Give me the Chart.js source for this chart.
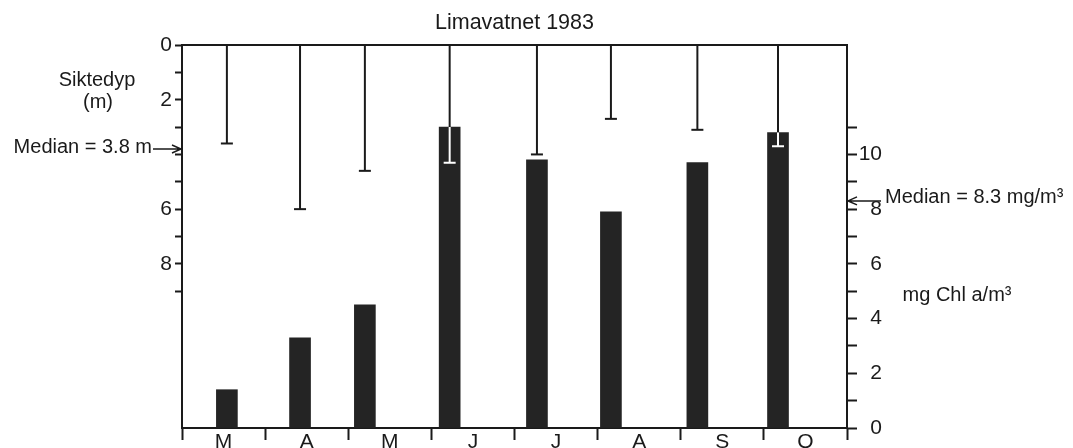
<!DOCTYPE html>
<html>
<head>
<meta charset="utf-8">
<script src="https://cdn.jsdelivr.net/npm/chart.js"></script>
<style>
  html, body { margin: 0; padding: 0; background: #fff; overflow: hidden; }
  #wrap { width: 1073px; height: 462px; }
</style>
</head>
<body>
<div id="wrap"><canvas id="lima"></canvas></div>
<script>
// Limavatnet 1983: siktedyp (m) og klorofyll a (mg/m3)
const months = ['M', 'A', 'M', 'J', 'J', 'A', 'S', 'O'];
// sampling position inside each month (month index + fraction)
const samplePos = [0.54, 1.42, 2.20, 3.22, 4.27, 5.16, 6.20, 7.17];
const chlA = [1.4, 3.3, 4.5, 11.0, 9.8, 7.9, 9.7, 10.8];
const secchiDepth = [3.6, 6.0, 4.6, 4.3, 4.0, 2.7, 3.1, 3.7];
const medianSecchi = 3.8;
const medianChl = 8.3;
const depthTickLabels = [0, 2, 6, 8];
const chlTickLabels = [0, 2, 4, 6, 8, 10];

const ink = '#1a1a1a';
const canvas = document.getElementById('lima');

Chart.defaults.color = ink;
Chart.defaults.font.family = 'Liberation Sans';
Chart.defaults.font.size = 21;

function arrow(ctx, x0, x1, y) {
  // line from x0 to x1, head at x1
  const dir = x1 > x0 ? 1 : -1;
  ctx.beginPath();
  ctx.moveTo(x0, y);
  ctx.lineTo(x1, y);
  ctx.moveTo(x1 - dir * 9, y - 4);
  ctx.lineTo(x1, y);
  ctx.lineTo(x1 - dir * 9, y + 4);
  ctx.stroke();
}

const errorBars = {
  id: 'errorBars',
  afterDatasetsDraw(chart) {
    const { ctx, scales } = chart;
    const bars = chart.getDatasetMeta(0).data;
    ctx.save();
    ctx.lineWidth = 2;
    secchiDepth.forEach((d, i) => {
      const x = scales.xd.getPixelForValue(samplePos[i]);
      const y0 = scales.y.getPixelForValue(0);
      const y1 = scales.y.getPixelForValue(d);
      const barTop = bars[i].y;
      const inside = y1 > barTop;
      ctx.strokeStyle = ink;
      ctx.beginPath();
      ctx.moveTo(x, y0);
      ctx.lineTo(x, inside ? barTop : y1);
      ctx.stroke();
      ctx.strokeStyle = inside ? '#ffffff' : ink;
      ctx.beginPath();
      if (inside) {
        ctx.moveTo(x, barTop);
        ctx.lineTo(x, y1);
      }
      ctx.moveTo(x - 6, y1);
      ctx.lineTo(x + 6, y1);
      ctx.stroke();
    });
    ctx.restore();
  }
};

const annotations = {
  id: 'annotations',
  afterDraw(chart) {
    const { ctx, chartArea, scales } = chart;
    ctx.save();
    ctx.fillStyle = ink;
    ctx.strokeStyle = ink;
    ctx.lineWidth = 1.5;
    ctx.font = '20px "Liberation Sans"';
    ctx.textBaseline = 'middle';

    // left: median Secchi depth
    const yl = scales.y.getPixelForValue(medianSecchi);
    ctx.textAlign = 'right';
    ctx.fillText('Median = ' + medianSecchi.toFixed(1) + ' m', chartArea.left - 30, yl - 1);
    arrow(ctx, chartArea.left - 29, chartArea.left - 1, yl);

    // right: median chlorophyll
    const yr = scales.y1.getPixelForValue(medianChl);
    ctx.textAlign = 'left';
    ctx.fillText('Median = ' + medianChl.toFixed(1) + ' mg/m³', chartArea.right + 38, yr - 3);
    arrow(ctx, chartArea.right + 34, chartArea.right + 1, yr);

    // axis names
    ctx.textAlign = 'center';
    ctx.fillText('Siktedyp', chartArea.left - 85, scales.y.getPixelForValue(1.3));
    ctx.fillText('(m)', chartArea.left - 84, scales.y.getPixelForValue(2.1));
    ctx.fillText('mg Chl a/m³', chartArea.right + 110, scales.y1.getPixelForValue(4.85));
    ctx.restore();
  }
};

new Chart(canvas, {
  type: 'bar',
  data: {
    datasets: [{
      label: 'mg Chl a/m³',
      data: samplePos.map((p, i) => ({ x: p, y: chlA[i] })),
      xAxisID: 'xd',
      yAxisID: 'y1',
      backgroundColor: '#242424',
      borderWidth: 0,
      barThickness: 21
    }]
  },
  options: {
    responsive: true,
    maintainAspectRatio: false,
    animation: false,
    layout: { padding: { left: 0, top: 0, bottom: 0, right: 191 } },
    plugins: {
      legend: { display: false },
      tooltip: { enabled: false },
      title: {
        display: true,
        fullSize: false,
        text: 'Limavatnet 1983',
        color: ink,
        font: { size: 21.5, weight: 'normal' },
        padding: { top: 10, bottom: 9.2 }
      }
    },
    scales: {
      xd: {
        type: 'linear',
        display: false,
        min: 0,
        max: months.length,
        offset: false
      },
      x: {
        type: 'category',
        position: 'bottom',
        labels: months,
        offset: true,
        afterFit: (s) => { s.height = 34; },
        grid: {
          offset: true,
          drawOnChartArea: false,
          tickLength: 12,
          tickWidth: 2,
          tickColor: ink
        },
        border: { color: ink, width: 2 },
        ticks: { padding: -10, color: ink, maxRotation: 0 }
      },
      xt: {
        type: 'category',
        position: 'top',
        labels: months,
        afterFit: (s) => { s.height = 0; },
        grid: { display: false, drawTicks: false },
        ticks: { display: false },
        border: { color: ink, width: 2 }
      },
      y: {
        type: 'linear',
        position: 'left',
        reverse: true,
        min: 0,
        max: 14,
        afterFit: (s) => { s.width = 182; },
        grid: {
          drawOnChartArea: false,
          tickLength: 7,
          tickWidth: 2,
          tickColor: (c) => (c.tick && c.tick.value <= 9 ? ink : 'rgba(0,0,0,0)')
        },
        border: { color: ink, width: 2 },
        ticks: {
          stepSize: 1,
          autoSkip: false,
          padding: 3,
          color: ink,
          callback: (v) => (depthTickLabels.includes(v) ? v : '')
        }
      },
      y1: {
        type: 'linear',
        position: 'right',
        min: 0,
        max: 14,
        afterFit: (s) => { s.width = 35; },
        grid: {
          drawOnChartArea: false,
          tickLength: 10,
          tickWidth: 2,
          tickColor: (c) => (c.tick && c.tick.value <= 11 ? ink : 'rgba(0,0,0,0)')
        },
        border: { color: ink, width: 2 },
        ticks: {
          stepSize: 1,
          autoSkip: false,
          padding: 2,
          crossAlign: 'far',
          color: ink,
          callback: (v) => (chlTickLabels.includes(v) ? v : '')
        }
      }
    }
  },
  plugins: [errorBars, annotations]
});
</script>
</body>
</html>
